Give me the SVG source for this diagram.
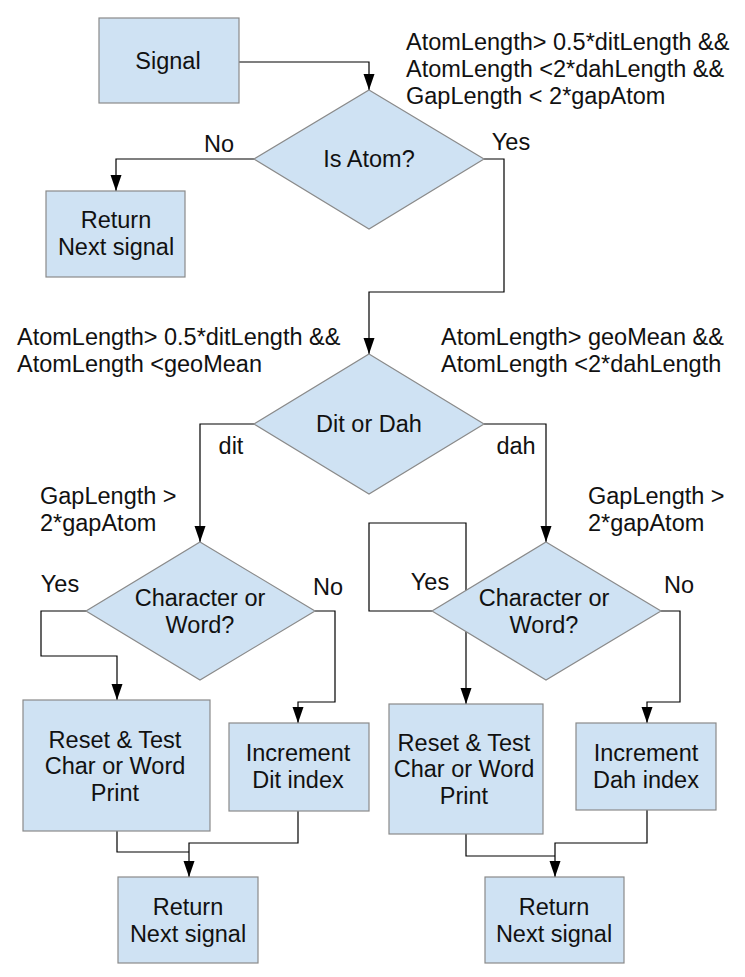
<svg xmlns="http://www.w3.org/2000/svg" width="745" height="977" viewBox="0 0 745 977">
<style>
.n{fill:#cfe2f3;stroke:#8a8a8a;stroke-width:1.2}
text{font-family:"Liberation Sans",Arial,sans-serif;font-size:23.5px;fill:#111}
.c{text-anchor:middle;dominant-baseline:central}
.l{dominant-baseline:central}
.e{fill:none;stroke:#000;stroke-width:1.2}
</style>
<defs>
<marker id="a" markerUnits="userSpaceOnUse" markerWidth="17" markerHeight="12" refX="16" refY="5.5" orient="auto">
<path d="M0,0 L16,5.5 L0,11 Z" fill="#000"/>
</marker>
</defs>
<rect width="745" height="977" fill="#fff"/>
<g id="connectors">
<path class="e" d="M239,62 H369 V90" marker-end="url(#a)"/>
<path class="e" d="M254,159 H116 V191" marker-end="url(#a)"/>
<path class="e" d="M484,159 H504 V292 H369 V354" marker-end="url(#a)"/>
<path class="e" d="M254,424 H200 V542" marker-end="url(#a)"/>
<path class="e" d="M484,424 H546 V542" marker-end="url(#a)"/>
<path class="e" d="M86,611 H41 V656 H117 V700" marker-end="url(#a)"/>
<path class="e" d="M315,611 H335 V702 H298 V723" marker-end="url(#a)"/>
<path class="e" d="M432,611 H369 V523 H466 V704" marker-end="url(#a)"/>
<path class="e" d="M661,611 H680 V702 H647 V723" marker-end="url(#a)"/>
<path class="e" d="M117,831 V852 H189"/>
<path class="e" d="M298,811 V843 H189 V877" marker-end="url(#a)"/>
<path class="e" d="M466,834 V856 H555"/>
<path class="e" d="M647,810 V843 H555 V877" marker-end="url(#a)"/>
</g>
<g id="signal"><rect class="n" x="99" y="18" width="140" height="85"/><text class="c" x="168" y="61">Signal</text></g>
<g id="isAtom"><polygon class="n" points="369,90 484,159 369,229 254,159"/><text class="c" x="369" y="159">Is Atom?</text></g>
<g id="return1"><rect class="n" x="46" y="191" width="139" height="86"/><text class="c" x="116" y="220">Return</text><text class="c" x="116" y="247">Next signal</text></g>
<g id="ditOrDah"><polygon class="n" points="369,354 484,424 369,494 254,424"/><text class="c" x="369" y="424">Dit or Dah</text></g>
<g id="cwLeft"><polygon class="n" points="200,542 315,611 200,680 86,611"/><text class="c" x="200" y="598">Character or</text><text class="c" x="200" y="625">Word?</text></g>
<g id="cwRight"><polygon class="n" points="546,542 661,611 546,680 432,611"/><text class="c" x="544" y="598">Character or</text><text class="c" x="544" y="625">Word?</text></g>
<g id="resetLeft"><rect class="n" x="23" y="700" width="187" height="131"/><text class="c" x="115" y="740">Reset &amp; Test</text><text class="c" x="115" y="766">Char or Word</text><text class="c" x="115" y="793">Print</text></g>
<g id="incDit"><rect class="n" x="229" y="723" width="140" height="88"/><text class="c" x="298" y="753">Increment</text><text class="c" x="298" y="780">Dit index</text></g>
<g id="resetRight"><rect class="n" x="389" y="704" width="154" height="130"/><text class="c" x="464" y="743">Reset &amp; Test</text><text class="c" x="464" y="769">Char or Word</text><text class="c" x="464" y="796">Print</text></g>
<g id="incDah"><rect class="n" x="576" y="723" width="140" height="87"/><text class="c" x="646" y="753">Increment</text><text class="c" x="646" y="780">Dah index</text></g>
<g id="return2"><rect class="n" x="118" y="877" width="140" height="86"/><text class="c" x="188" y="907">Return</text><text class="c" x="188" y="934">Next signal</text></g>
<g id="return3"><rect class="n" x="485" y="877" width="139" height="86"/><text class="c" x="554" y="907">Return</text><text class="c" x="554" y="934">Next signal</text></g>
<g id="labels">
<text class="l" x="406" y="42">AtomLength&gt; 0.5*ditLength &amp;&amp;</text>
<text class="l" x="406" y="69">AtomLength &lt;2*dahLength &amp;&amp;</text>
<text class="l" x="406" y="96">GapLength &lt; 2*gapAtom</text>
<text class="c" x="219" y="144">No</text>
<text class="c" x="511" y="142">Yes</text>
<text class="l" x="17" y="337">AtomLength&gt; 0.5*ditLength &amp;&amp;</text>
<text class="l" x="17" y="364">AtomLength &lt;geoMean</text>
<text class="l" x="441" y="337">AtomLength&gt; geoMean &amp;&amp;</text>
<text class="l" x="441" y="364">AtomLength &lt;2*dahLength</text>
<text class="c" x="231" y="446">dit</text>
<text class="c" x="516" y="446">dah</text>
<text class="l" x="40" y="496">GapLength &gt;</text>
<text class="l" x="40" y="523">2*gapAtom</text>
<text class="l" x="588" y="496">GapLength &gt;</text>
<text class="l" x="588" y="523">2*gapAtom</text>
<text class="c" x="60" y="584">Yes</text>
<text class="c" x="328" y="587">No</text>
<text class="c" x="430" y="582">Yes</text>
<text class="c" x="679" y="585">No</text>
</g>
</svg>
